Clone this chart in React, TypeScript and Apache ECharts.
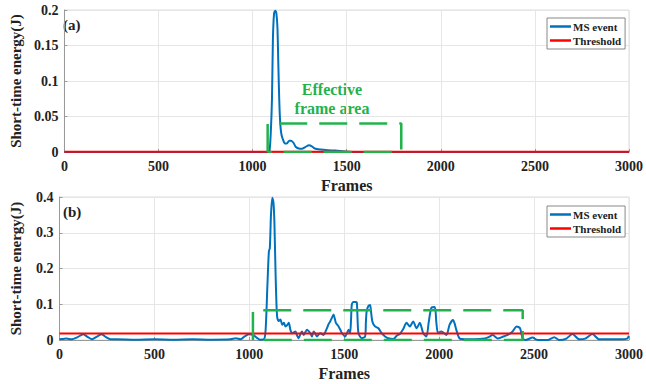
import React, { useEffect, useRef } from "react";
import * as echarts from "echarts";

// ---- Data ----
const xTicks = [0, 500, 1000, 1500, 2000, 2500, 3000];

// (a) MS event short-time energy
const framesA = [0, 1080, 1090, 1097, 1103, 1108, 1114, 1120, 1126, 1132, 1137, 1142, 1147, 1153, 1162, 1172, 1182, 1195, 1205, 1217, 1230, 1245, 1262, 1280, 1300, 1315, 1330, 1360, 1400, 1440, 1480, 1520, 3000];
const energyA = [0, 0, 0.002, 0.03, 0.075, 0.16, 0.195, 0.199, 0.196, 0.175, 0.12, 0.07, 0.04, 0.025, 0.017, 0.012, 0.012, 0.016, 0.016, 0.013, 0.007, 0.005, 0.0045, 0.007, 0.0095, 0.008, 0.005, 0.0035, 0.0025, 0.002, 0.001, 0, 0];
const thresholdA = 0.0005;
const boxA = { x: [1080, 1790], y: [0, 0.04] };

// (b) MS event short-time energy
const framesB = [0, 20, 37, 64, 95, 125, 150, 172, 195, 221, 245, 268, 300, 400, 500, 600, 700, 800, 900, 929, 955, 975, 998, 1020, 1040, 1055, 1077, 1086, 1095, 1103, 1108, 1114, 1121, 1127, 1132, 1138, 1143, 1147, 1155, 1164, 1173, 1182, 1190, 1200, 1208, 1216, 1225, 1243, 1252, 1260, 1268, 1277, 1286, 1295, 1304, 1321, 1330, 1339, 1347, 1356, 1365, 1374, 1391, 1400, 1409, 1418, 1426, 1435, 1444, 1450, 1456, 1470, 1480, 1488, 1505, 1515, 1523, 1531, 1536, 1540, 1549, 1558, 1566, 1570, 1575, 1592, 1610, 1614, 1618, 1627, 1636, 1641, 1648, 1662, 1680, 1697, 1715, 1732, 1759, 1776, 1793, 1810, 1828, 1846, 1863, 1881, 1898, 1916, 1933, 1945, 1959, 1977, 1985, 1994, 2011, 2038, 2055, 2073, 2082, 2090, 2108, 2134, 2187, 2239, 2260, 2282, 2309, 2335, 2361, 2387, 2408, 2426, 2440, 2457, 2492, 2518, 2571, 2606, 2632, 2670, 2702, 2737, 2770, 2807, 2842, 2900, 2960, 2990, 3000];
const energyB = [0.002, 0.003, 0.004, 0.002, 0.008, 0.016, 0.008, 0.002, 0.009, 0.016, 0.008, 0.002, 0.002, 0.001, 0.002, 0.001, 0.002, 0.001, 0.002, 0.005, 0.002, 0.01, 0.016, 0.014, 0.006, 0.001, 0.002, 0.03, 0.15, 0.248, 0.257, 0.35, 0.398, 0.385, 0.33, 0.19, 0.1, 0.063, 0.053, 0.057, 0.043, 0.048, 0.038, 0.042, 0.048, 0.029, 0.019, 0.024, 0.012, 0.005, 0.015, 0.024, 0.014, 0.022, 0.029, 0.019, 0.01, 0.024, 0.018, 0.01, 0.015, 0.019, 0.014, 0.022, 0.033, 0.045, 0.052, 0.062, 0.071, 0.06, 0.048, 0.038, 0.028, 0.019, 0.01, 0.02, 0.029, 0.019, 0.06, 0.1, 0.106, 0.106, 0.105, 0.06, 0.019, 0.005, 0.01, 0.05, 0.08, 0.095, 0.098, 0.08, 0.052, 0.038, 0.033, 0.019, 0.01, 0.005, 0.003, 0.012, 0.017, 0.03, 0.048, 0.038, 0.052, 0.033, 0.048, 0.019, 0.01, 0.05, 0.09, 0.092, 0.05, 0.019, 0.024, 0.014, 0.043, 0.056, 0.045, 0.029, 0.004, 0.002, 0.002, 0.004, 0.008, 0.014, 0.004, 0.009, 0.014, 0.024, 0.038, 0.033, 0.004, 0, 0.007, 0, 0, 0.008, 0, 0.004, 0.017, 0.002, 0.004, 0.017, 0.002, 0.002, 0.002, 0.004, 0.012];
const thresholdB = 0.018;
const boxB = { x: [1019, 2440], y: [0, 0.083] };

const BLUE = "#0072BD";
const RED = "#FF0000";
const GREEN = "#22B24C";
const FONT = "Liberation Serif";

function pairs(xs: number[], ys: number[]) {
  return xs.map((x, i) => [x, ys[i]]);
}
function boxPath(b: { x: number[]; y: number[] }) {
  return [
    [b.x[0], b.y[0]],
    [b.x[0], b.y[1]],
    [b.x[1], b.y[1]],
    [b.x[1], b.y[0]],
    [b.x[0], b.y[0]],
  ];
}

export default function App() {
  const ref = useRef<HTMLDivElement>(null);
  useEffect(() => {
    if (!ref.current) return;
    const chart = echarts.init(ref.current, null, { renderer: "svg" });

    const grids = [
      { left: 59.5, right: 13.5, top: 10, height: 142, show: true, borderColor: "#dcdcdc", borderWidth: 1, backgroundColor: "#fff" },
      { left: 59.5, right: 13.5, top: 197, height: 143, show: true, borderColor: "#dcdcdc", borderWidth: 1, backgroundColor: "#fff" },
    ];
    const xAxisBase = (gi: number) => ({
      type: "value",
      gridIndex: gi,
      min: xTicks[0],
      max: xTicks[xTicks.length - 1],
      interval: xTicks[1] - xTicks[0],
      name: "Frames",
      nameLocation: "middle",
      nameGap: 25,
      nameTextStyle: { fontFamily: FONT, fontWeight: "bold", fontSize: 16, color: "#222" },
      axisLine: { show: true, lineStyle: { color: "#999" } },
      axisTick: { show: true, inside: true, length: 3, lineStyle: { color: "#999" } },
      axisLabel: { fontFamily: FONT, fontWeight: "bold", fontSize: 14, color: "#222", margin: 7, formatter: (v: number) => String(v) },
      splitLine: { show: true, lineStyle: { color: "#e6e6e6" } },
    });
    const yAxisBase = (gi: number, max: number, interval: number) => ({
      type: "value",
      gridIndex: gi,
      min: 0,
      max,
      interval,
      name: "Short-time energy(J)",
      nameLocation: "middle",
      nameGap: 36,
      nameTextStyle: { fontFamily: FONT, fontWeight: "bold", fontSize: 15, color: "#222" },
      axisLine: { show: true, lineStyle: { color: "#999" } },
      axisTick: { show: true, inside: true, length: 3, lineStyle: { color: "#999" } },
      axisLabel: { fontFamily: FONT, fontWeight: "bold", fontSize: 14, color: "#222", margin: 6, formatter: (v: number) => String(Math.round(v * 1000) / 1000) },
      splitLine: { show: true, lineStyle: { color: "#e6e6e6" } },
    });

    const legendBase = (top: number) => ({
      data: ["MS event", "Threshold"],
      orient: "vertical",
      left: 547,
      top,
      icon: "rect",
      itemWidth: 21,
      itemHeight: 2.5,
      itemGap: 3,
      padding: [3, 4, 3, 3],
      borderColor: "#888",
      borderWidth: 1,
      backgroundColor: "#fff",
      selectedMode: false,
      textStyle: { fontFamily: FONT, fontWeight: "bold", fontSize: 11, color: "#222", padding: [0, 0, 0, -3] },
    });

    const lineSeries = (name: string, gi: number, data: number[][], color: string, z: number) => ({
      type: "line",
      name,
      xAxisIndex: gi,
      yAxisIndex: gi,
      data,
      symbol: "none",
      smooth: 0.25,
      lineStyle: { color, width: 2 },
      itemStyle: { color },
      z,
    });
    const boxSeries = (gi: number, b: { x: number[]; y: number[] }) => ({
      type: "line",
      name: "box" + gi,
      xAxisIndex: gi,
      yAxisIndex: gi,
      data: boxPath(b),
      symbol: "none",
      lineStyle: { color: GREEN, width: 2.5, type: [28, 12] },
      z: 5,
      silent: true,
    });

    chart.setOption({
      animation: false,
      backgroundColor: "#fff",
      textStyle: { fontFamily: FONT },
      grid: grids,
      xAxis: [xAxisBase(0), xAxisBase(1)],
      yAxis: [yAxisBase(0, 0.2, 0.05), yAxisBase(1, 0.4, 0.1)],
      legend: [legendBase(18), legendBase(206)],
      series: [
        lineSeries("MS event", 0, pairs(framesA, energyA), BLUE, 2),
        lineSeries("Threshold", 0, [[xTicks[0], thresholdA], [xTicks[xTicks.length - 1], thresholdA]], RED, 3),
        boxSeries(0, boxA),
        lineSeries("MS event", 1, pairs(framesB, energyB), BLUE, 2),
        lineSeries("Threshold", 1, [[xTicks[0], thresholdB], [xTicks[xTicks.length - 1], thresholdB]], RED, 3),
        boxSeries(1, boxB),
      ],
      graphic: [
        { type: "text", left: 63, top: 17, style: { text: "(a)", fontFamily: FONT, fontWeight: "bold", fontSize: 15, fill: "#222" } },
        { type: "text", left: 63, top: 204, style: { text: "(b)", fontFamily: FONT, fontWeight: "bold", fontSize: 15, fill: "#222" } },
        {
          type: "text",
          x: 332,
          y: 80,
          style: {
            text: "Effective\nframe area",
            fontFamily: FONT,
            fontWeight: "bold",
            fontSize: 16,
            lineHeight: 19,
            fill: GREEN,
            align: "center",
          },
        },
      ],
    });
    return () => chart.dispose();
  }, []);
  return <div ref={ref} style={{ position: "fixed", left: 0, top: 0, width: 646, height: 384, background: "#fff" }} />;
}
